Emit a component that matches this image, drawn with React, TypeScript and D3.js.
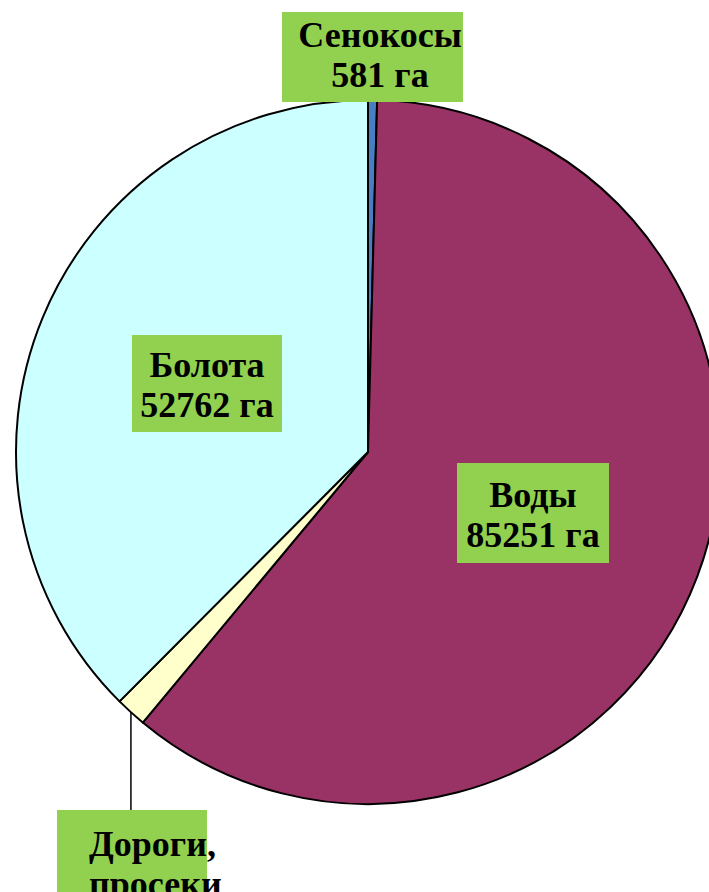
import React from "react";
import * as d3 from "d3";

const categories = ["Сенокосы", "Воды", "Дороги, просеки", "Болота"];
const values = [581, 85251, 2000, 52762];
const sliceColors = ["#4a7ec2", "#993366", "#ffffcc", "#ccffff"];
const labelLines: string[][] = [
  ["Сенокосы", "581 га"],
  ["Воды", "85251 га"],
  ["Дороги,", "просеки"],
  ["Болота", "52762 га"],
];

const W = 709;
const H = 892;
const cx = 368;
const cy = 452;
const R = 352;

// label box layout (x, y, w, h, text x, first baseline, anchor)
const boxes = [
  { x: 282, y: 12, w: 181, h: 90, tx: 380, ty: 47, anchor: "middle" },
  { x: 457, y: 463, w: 152, h: 100, tx: 533, ty: 507, anchor: "middle" },
  { x: 57, y: 810, w: 150, h: 100, tx: 89, ty: 856, anchor: "start" },
  { x: 132, y: 335, w: 150, h: 97, tx: 207, ty: 377, anchor: "middle" },
];

export default function App() {
  const pie = d3
    .pie<number>()
    .sort(null)
    .value((d) => d)
    .startAngle(0)
    .endAngle(2 * Math.PI);
  const arcs = pie(values);
  const arcGen = d3.arc<d3.PieArcDatum<number>>().innerRadius(0).outerRadius(R);

  const roads = arcs[2];
  const mid = (roads.startAngle + roads.endAngle) / 2;
  const lx = cx + R * Math.sin(mid);
  const ly = cy - R * Math.cos(mid);

  return (
    <svg
      width={W}
      height={H}
      style={{ position: "absolute", left: 0, top: 0, background: "#fff" }}
    >
      <g transform={`translate(${cx},${cy})`}>
        {arcs.map((a, i) => (
          <path
            key={categories[i]}
            d={arcGen(a) || ""}
            fill={sliceColors[i]}
            stroke="#000"
            strokeWidth={2}
            strokeLinejoin="round"
          />
        ))}
      </g>
      <line x1={lx} y1={ly} x2={lx} y2={boxes[2].y} stroke="#000" strokeWidth={1.5} />
      {boxes.map((b, i) => (
        <g key={"lbl" + i}>
          <rect x={b.x} y={b.y} width={b.w} height={b.h} fill="#92d050" />
          {labelLines[i].map((t, j) => (
            <text
              key={j}
              x={b.tx}
              y={b.ty + j * 40}
              textAnchor={b.anchor as any}
              fontFamily="'Liberation Serif', 'Times New Roman', serif"
              fontWeight="bold"
              fontSize={36}
              fill="#000"
            >
              {t}
            </text>
          ))}
        </g>
      ))}
    </svg>
  );
}
